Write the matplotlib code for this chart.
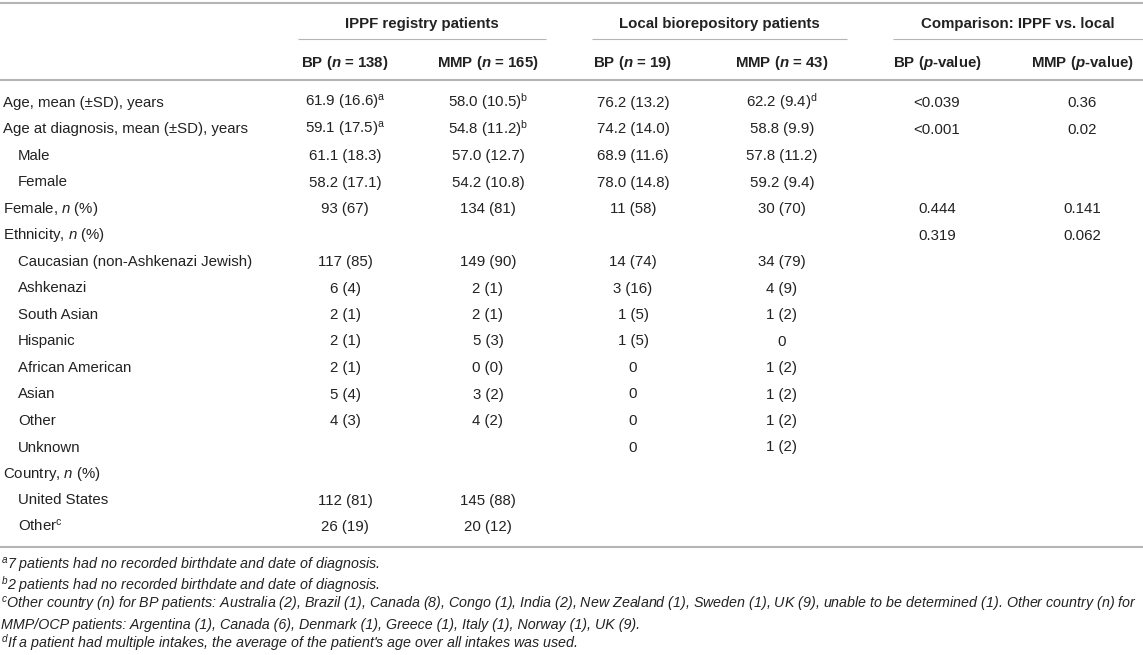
import matplotlib
matplotlib.use("Agg")
import matplotlib.pyplot as plt

# Fonts (Helvetica-like) and mathtext for italic n / superscripts
plt.rcParams['font.family'] = ['Liberation Sans', 'DejaVu Sans']
plt.rcParams['mathtext.fontset'] = 'custom'
plt.rcParams['mathtext.rm'] = 'Liberation Sans'
plt.rcParams['mathtext.it'] = 'Liberation Sans:italic'
plt.rcParams['mathtext.bf'] = 'Liberation Sans:bold'
plt.rcParams['mathtext.bfit'] = 'Liberation Sans:italic:bold'

# Table content
groups = ["IPPF registry patients", "Local biorepository patients",
          "Comparison: IPPF vs. local"]
col_headers = [r"BP ($\mathbfit{n}$ = 138)", r"MMP ($\mathbfit{n}$ = 165)",
               r"BP ($\mathbfit{n}$ = 19)", r"MMP ($\mathbfit{n}$ = 43)",
               r"BP ($\mathbfit{p}$-value)", r"MMP ($\mathbfit{p}$-value)"]

row_labels = ["Age, mean (±SD), years",
              "Age at diagnosis, mean (±SD), years",
              "Male", "Female",
              r"Female, $\mathit{n}$ (%)",
              r"Ethnicity, $\mathit{n}$ (%)",
              "Caucasian (non-Ashkenazi Jewish)", "Ashkenazi", "South Asian",
              "Hispanic", "African American", "Asian", "Other", "Unknown",
              r"Country, $\mathit{n}$ (%)",
              "United States", r"Other$^{\mathrm{c}}$"]
indent = [0, 0, 1, 1, 0, 0, 1, 1, 1, 1, 1, 1, 1, 1, 0, 1, 1]

ippf_bp = [r"61.9 (16.6)$^{\mathrm{a}}$", r"59.1 (17.5)$^{\mathrm{a}}$",
           "61.1 (18.3)", "58.2 (17.1)", "93 (67)", "", "117 (85)", "6 (4)",
           "2 (1)", "2 (1)", "2 (1)", "5 (4)", "4 (3)", "", "", "112 (81)",
           "26 (19)"]
ippf_mmp = [r"58.0 (10.5)$^{\mathrm{b}}$", r"54.8 (11.2)$^{\mathrm{b}}$",
            "57.0 (12.7)", "54.2 (10.8)", "134 (81)", "", "149 (90)", "2 (1)",
            "2 (1)", "5 (3)", "0 (0)", "3 (2)", "4 (2)", "", "", "145 (88)",
            "20 (12)"]
local_bp = ["76.2 (13.2)", "74.2 (14.0)", "68.9 (11.6)", "78.0 (14.8)",
            "11 (58)", "", "14 (74)", "3 (16)", "1 (5)", "1 (5)", "0", "0",
            "0", "0", "", "", ""]
local_mmp = [r"62.2 (9.4)$^{\mathrm{d}}$", "58.8 (9.9)", "57.8 (11.2)",
             "59.2 (9.4)", "30 (70)", "", "34 (79)", "4 (9)", "1 (2)", "0",
             "1 (2)", "1 (2)", "1 (2)", "1 (2)", "", "", ""]
p_bp = ["<0.039", "<0.001", "", "", "0.444", "0.319"] + [""] * 11
p_mmp = ["0.36", "0.02", "", "", "0.141", "0.062"] + [""] * 11

footnotes = [
    r"$^{\mathit{a}}$7 patients had no recorded birthdate and date of diagnosis.",
    r"$^{\mathit{b}}$2 patients had no recorded birthdate and date of diagnosis.",
    r"$^{\mathit{c}}$Other country ($\mathit{n}$) for BP patients: Australia (2), "
    r"Brazil (1), Canada (8), Congo (1), India (2), New Zealand (1), Sweden (1), "
    r"UK (9), unable to be determined (1). Other country ($\mathit{n}$) for",
    "MMP/OCP patients: Argentina (1), Canada (6), Denmark (1), Greece (1), "
    "Italy (1), Norway (1), UK (9).",
    r"$^{\mathit{d}}$If a patient had multiple intakes, the average of the "
    r"patient's age over all intakes was used.",
]

columns = [ippf_bp, ippf_mmp, local_bp, local_mmp, p_bp, p_mmp]

# Layout (pixel coordinates)
W, H = 1143, 655
col_x = [345, 488, 633, 782, 937, 1082]
group_spans = [(298, 546), (592, 847), (893, 1143)]
row_y0, row_dy = 102, 26.5
base_off = 5
fs = 10.8
fs_note = 10.3
txt = "#222222"
rule = "#b4b4b4"

fig = plt.figure(figsize=(W / 100, H / 100), dpi=100)
ax = fig.add_axes([0, 0, 1, 1])
ax.set_xlim(0, W)
ax.set_ylim(H, 0)
ax.axis("off")

# Rules
ax.plot([0, W], [3, 3], color=rule, lw=1.5, solid_capstyle="butt")
ax.plot([0, W], [80, 80], color=rule, lw=1.5, solid_capstyle="butt")
ax.plot([0, W], [547, 547], color=rule, lw=1.5, solid_capstyle="butt")
for x0, x1 in group_spans:
    ax.plot([x0, x1], [39, 39], color=rule, lw=0.8, solid_capstyle="butt")

# Headers
for (x0, x1), g in zip(group_spans, groups):
    ax.text((x0 + x1) / 2, 23 + base_off, g, ha="center", va="baseline",
            fontsize=fs, fontweight="bold", color=txt)
for x, h in zip(col_x, col_headers):
    ax.text(x, 62 + base_off, h, ha="center", va="baseline",
            fontsize=fs, fontweight="bold", color=txt)

# Body
for i, lab in enumerate(row_labels):
    y = row_y0 + i * row_dy + base_off
    ax.text(3 + 15 * indent[i], y, lab, ha="left", va="baseline",
            fontsize=fs, color=txt)
    for x, col in zip(col_x, columns):
        if col[i]:
            ax.text(x, y, col[i], ha="center", va="baseline",
                    fontsize=fs, color=txt)

# Footnotes
for k, note in enumerate(footnotes):
    ax.text(1, 566 + k * 19.5 + 4, note, ha="left", va="baseline",
            fontsize=fs_note, style="italic", color=txt)

fig.savefig("out.png", dpi=100)
